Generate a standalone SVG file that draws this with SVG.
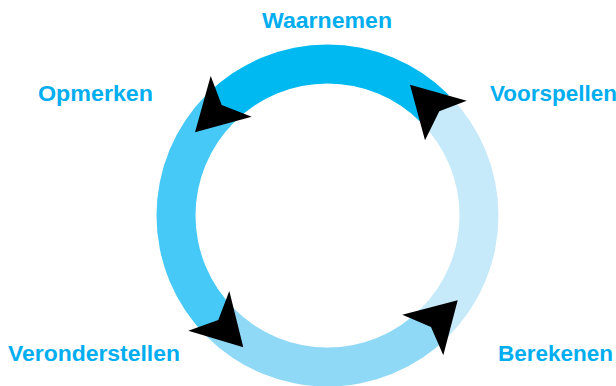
<svg xmlns="http://www.w3.org/2000/svg" width="616" height="386" viewBox="0 0 616 386">
<style>
.lbl{font-family:"Liberation Sans",Arial,sans-serif;font-weight:bold;font-size:22px;fill:#00AEEF}
.arrow{fill:#000000}
</style>
<rect width="616" height="386" fill="#ffffff"/>
<g id="connectors">
<path id="seg-top" fill="#00B9F0" d="M 206.58 94.58 A 171 171 0 0 1 448.42 94.58 L 420.84 122.16 A 132 132 0 0 0 234.16 122.16 Z"/>
<path id="seg-right" fill="#C6EAFA" d="M 448.42 94.58 A 171 171 0 0 1 448.42 336.42 L 420.84 308.84 A 132 132 0 0 0 420.84 122.16 Z"/>
<path id="seg-bottom" fill="#8FD9F7" d="M 448.42 336.42 A 171 171 0 0 1 206.58 336.42 L 234.16 308.84 A 132 132 0 0 0 420.84 308.84 Z"/>
<path id="seg-left" fill="#46C9F6" d="M 206.58 336.42 A 171 171 0 0 1 206.58 94.58 L 234.16 122.16 A 132 132 0 0 0 234.16 308.84 Z"/>
<polygon class="arrow" points="210.7,76 221.7,105 251.7,116.7 195,132.3"/>
<polygon class="arrow" points="410,84.7 466.7,100.7 439.3,111.3 425,140.3"/>
<polygon class="arrow" points="229.3,291 218.3,320 188.3,330.7 243.3,347.3"/>
<polygon class="arrow" points="457.7,300.3 443.3,355.3 431,327 402.3,314.7"/>
</g>
<g id="node-waarnemen"><text class="lbl" x="262" y="28" textLength="130" lengthAdjust="spacingAndGlyphs">Waarnemen</text></g>
<g id="node-opmerken"><text class="lbl" x="38" y="101" textLength="115" lengthAdjust="spacingAndGlyphs">Opmerken</text></g>
<g id="node-voorspellen"><text class="lbl" x="490" y="101" textLength="127" lengthAdjust="spacingAndGlyphs">Voorspellen</text></g>
<g id="node-veronderstellen"><text class="lbl" x="8" y="361" textLength="172" lengthAdjust="spacingAndGlyphs">Veronderstellen</text></g>
<g id="node-berekenen"><text class="lbl" x="498" y="361" textLength="115" lengthAdjust="spacingAndGlyphs">Berekenen</text></g>
</svg>
